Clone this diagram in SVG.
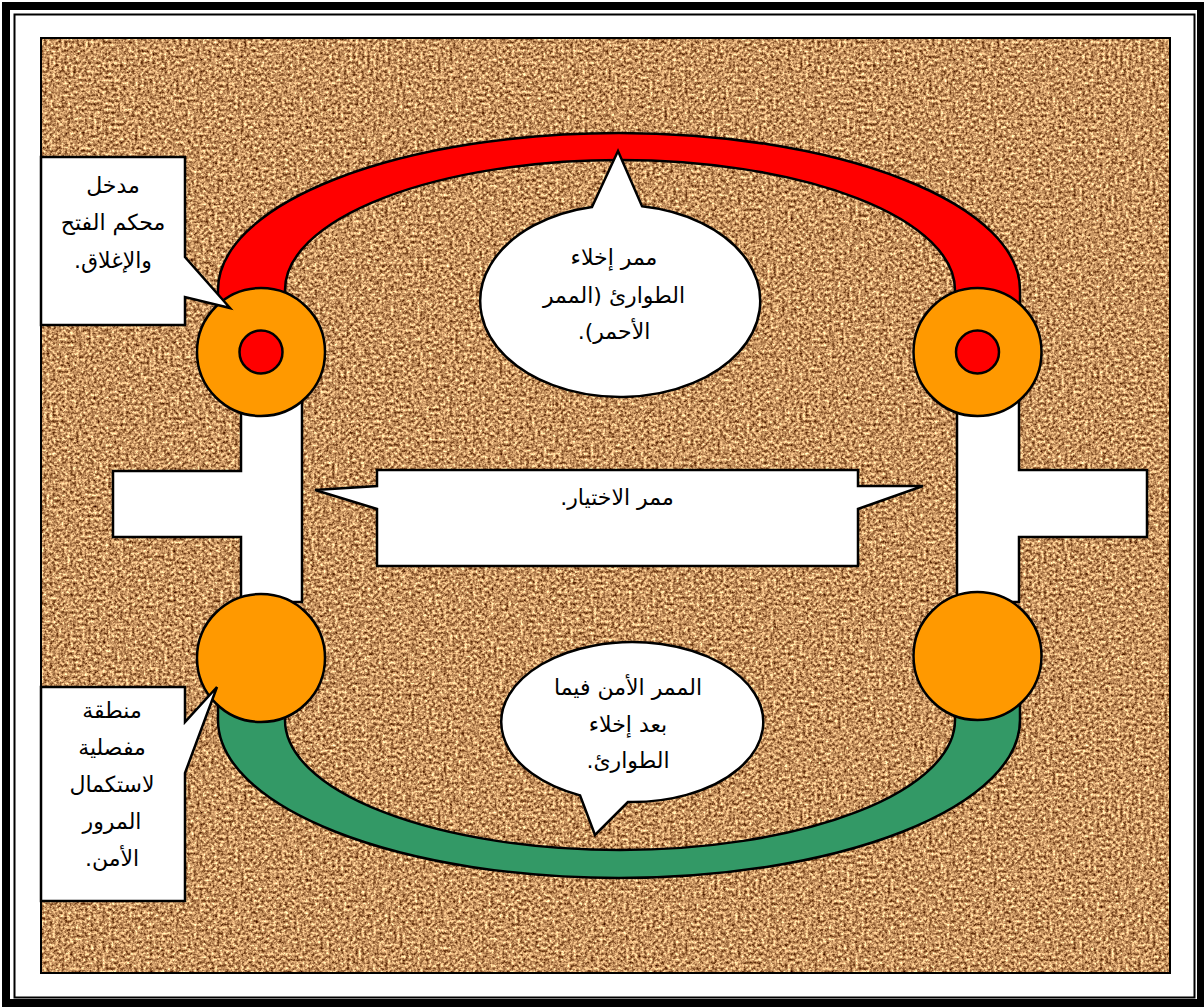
<svg xmlns="http://www.w3.org/2000/svg" width="1204" height="1007" viewBox="0 0 1204 1007">
<defs>
<style>
.ol{stroke:#000;stroke-width:2.5;stroke-linejoin:miter}
.wh{fill:#fff}
.or{fill:#FF9900}
.rd{fill:#FF0000}
.gr{fill:#339966}
.tx{font-family:"DejaVu Sans","Noto Sans",sans-serif;font-size:22px;fill:#000;text-anchor:middle;direction:rtl}
</style>
<filter id="cork" x="0" y="0" width="1" height="1" color-interpolation-filters="sRGB">
<feTurbulence type="fractalNoise" baseFrequency="0.34" numOctaves="4" seed="11"/>
<feColorMatrix type="matrix" values="1.35 0 0 0 0.1  1.35 0 0 0 -0.1  1.15 0 0 0 -0.2  0 0 0 0 1"/>
</filter>
</defs>
<rect x="0" y="0" width="1204" height="1007" fill="#fff"/>
<rect x="6" y="6" width="1195" height="997" fill="none" stroke="#000" stroke-width="8"/>
<rect x="14.5" y="14.5" width="1180" height="983" fill="none" stroke="#000" stroke-width="2"/>
<rect x="41" y="38" width="1129" height="935" fill="#c08a5a" filter="url(#cork)"/>
<rect x="41" y="38" width="1129" height="935" fill="none" stroke="#000" stroke-width="2"/>

<g id="connectors">
<path class="ol rd" d="M 218 310 L 218 290 A 401 157 0 0 1 1020 290 L 1020 310 L 955 310 L 955 290 A 335 130 0 0 0 285 290 L 285 310 Z"/>
<path class="ol gr" d="M 218 700 L 218 720 A 401 158 0 0 0 1020 720 L 1020 700 L 955 700 L 955 720 A 335 130 0 0 1 285 720 L 285 700 Z"/>
</g>

<g id="t-left"><path class="ol wh" d="M 241 400 L 302 400 L 302 602 L 241 602 L 241 537 L 113 537 L 113 471 L 241 471 Z"/></g>
<g id="t-right"><path class="ol wh" d="M 957 400 L 1019 400 L 1019 470 L 1147 470 L 1147 537 L 1019 537 L 1019 602 L 957 602 Z"/></g>

<g id="node-top-left"><circle class="ol or" cx="261" cy="352" r="64"/><circle class="ol rd" cx="261" cy="352" r="21.5"/></g>
<g id="node-top-right"><circle class="ol or" cx="977.5" cy="352" r="64"/><circle class="ol rd" cx="977.5" cy="352" r="21.5"/></g>
<g id="node-bottom-left"><circle class="ol or" cx="261" cy="658" r="64"/></g>
<g id="node-bottom-right"><circle class="ol or" cx="977.5" cy="656" r="64"/></g>

<g id="callout-entry">
<path class="ol wh" d="M 41 157 L 185 157 L 185 257 L 230 308 L 185 297 L 185 325 L 41 325 Z"/>
<text class="tx" x="113" y="193">مدخل</text>
<text class="tx" x="113" y="230">محكم الفتح</text>
<text class="tx" x="113" y="268">والإغلاق.</text>
</g>

<g id="callout-separation">
<path class="ol wh" d="M 41 687 L 185 687 L 185 722 L 217 687 L 185 773 L 185 901 L 41 901 Z"/>
<text class="tx" x="112" y="718">منطقة</text>
<text class="tx" x="112" y="755">مفصلية</text>
<text class="tx" x="112" y="792">لاستكمال</text>
<text class="tx" x="112" y="829">المرور</text>
<text class="tx" x="112" y="866">الأمن.</text>
</g>

<g id="callout-emergency">
<path class="ol wh" d="M 592 207 L 618 151 L 642 206.2 A 140 96 0 1 1 592 207 Z"/>
<text class="tx" x="614" y="265">ممر إخلاء</text>
<text class="tx" x="614" y="303">الطوارئ (الممر</text>
<text class="tx" x="614" y="339">الأحمر).</text>
</g>

<g id="callout-choice">
<path class="ol wh" d="M 377 470 L 858 470 L 858 486 L 923 486 L 858 509 L 858 566 L 377 566 L 377 509 L 315 490 L 377 486 Z"/>
<text class="tx" x="617" y="505">ممر الاختيار.</text>
</g>

<g id="callout-safe">
<path class="ol wh" d="M 628 802 L 595 835 L 580 795.4 A 131 80 0 1 1 628 802 Z"/>
<text class="tx" x="628" y="695">الممر الأمن فيما</text>
<text class="tx" x="628" y="732">بعد إخلاء</text>
<text class="tx" x="628" y="768">الطوارئ.</text>
</g>
</svg>
